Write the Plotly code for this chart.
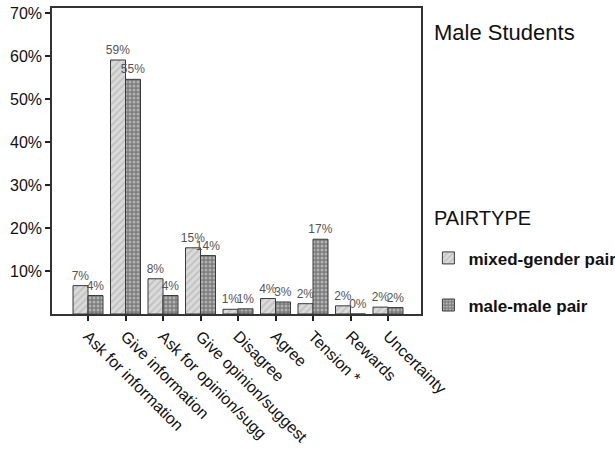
import plotly.graph_objects as go

# Interaction categories (Bales-style codes)
categories = [
    "Ask for information",
    "Give information",
    "Ask for opinion/sugg",
    "Give opinion/suggest",
    "Disagree",
    "Agree",
    "Tension *",
    "Rewards",
    "Uncertainty",
]

# Percent of utterances per category, male students
mixed_gender = [6.6, 59.1, 8.2, 15.4, 1.1, 3.6, 2.4, 1.9, 1.6]
male_male = [4.3, 54.6, 4.3, 13.6, 1.2, 2.8, 17.4, 0.0, 1.5]

y_ticks = [10, 20, 30, 40, 50, 60, 70]
y_tick_labels = [f"{v}%" for v in y_ticks]

FONT = "Liberation Sans, Arial, sans-serif"
x_idx = list(range(len(categories)))

fig = go.Figure()

fig.add_trace(go.Bar(
    name="mixed-gender pair",
    x=x_idx,
    y=mixed_gender,
    legendgroup="a",
    marker=dict(
        color="#dadada",
        line=dict(color="#3a3a3a", width=1),
        pattern=dict(shape="/", fgcolor="#a8a8a8", bgcolor="#dadada",
                     size=5, solidity=0.35),
    ),
    texttemplate="%{y:.0f}%",
    textposition="outside",
    textangle=0,
    constraintext="none",
    cliponaxis=False,
    textfont=dict(family=FONT, size=12, color="#555555"),
))

fig.add_trace(go.Bar(
    name="male-male pair",
    x=x_idx,
    y=male_male,
    legendgroup="b",
    marker=dict(
        color="#8a8a8a",
        line=dict(color="#3a3a3a", width=1),
        pattern=dict(shape=".", fgcolor="#e6e6e6", bgcolor="#7c7c7c",
                     size=4, solidity=0.45),
    ),
    texttemplate="%{y:.0f}%",
    textposition="outside",
    textangle=0,
    constraintext="none",
    cliponaxis=False,
    textfont=dict(family=FONT, size=12, color="#555555"),
))

fig.update_layout(
    width=615,
    height=457,
    margin=dict(l=52, r=194, t=8, b=143, autoexpand=False),
    paper_bgcolor="white",
    plot_bgcolor="white",
    barmode="group",
    bargap=0.2,
    bargroupgap=0,
    font=dict(family=FONT, color="#111111"),
    showlegend=True,
    legend=dict(
        x=1.02, xanchor="left",
        y=0.105, yanchor="middle",
        font=dict(family=FONT, size=17, color="#111111", weight="bold"),
        tracegroupgap=22,
        bgcolor="rgba(0,0,0,0)",
    ),
    annotations=[
        dict(text="Male Students", x=1.03, xanchor="left", y=0.92,
             yanchor="middle", xref="paper", yref="paper", showarrow=False,
             font=dict(family=FONT, size=22, color="#111111")),
        dict(text="PAIRTYPE", x=1.03, xanchor="left", y=0.314,
             yanchor="middle", xref="paper", yref="paper", showarrow=False,
             font=dict(family=FONT, size=20, color="#111111")),
    ],
)

fig.update_xaxes(
    range=[-0.96, 8.88],
    tickvals=x_idx,
    ticktext=categories,
    tickangle=45,
    ticks="outside",
    ticklen=5,
    tickwidth=1.5,
    tickcolor="#222222",
    showline=True,
    linecolor="#333333",
    linewidth=1.5,
    mirror=True,
    showgrid=False,
    zeroline=False,
    tickfont=dict(family=FONT, size=16, color="#111111"),
)

fig.update_yaxes(
    range=[0, 71.2],
    tickvals=y_ticks,
    ticktext=y_tick_labels,
    ticks="outside",
    ticklen=5,
    tickwidth=1.5,
    tickcolor="#222222",
    showline=True,
    linecolor="#333333",
    linewidth=1.5,
    mirror=True,
    showgrid=False,
    zeroline=False,
    tickfont=dict(family=FONT, size=16, color="#111111"),
)

fig.write_html("out.html")
